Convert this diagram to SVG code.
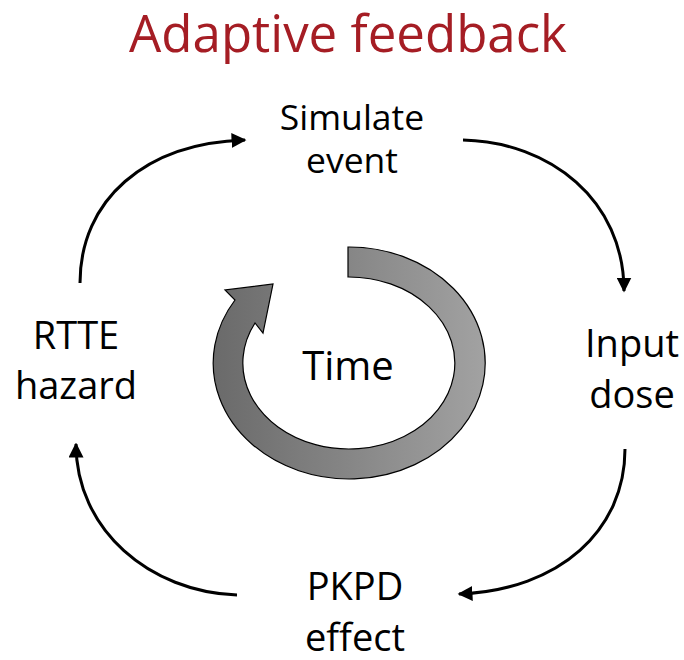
<svg xmlns="http://www.w3.org/2000/svg" width="684" height="660" viewBox="0 0 684 660">
<defs>
<linearGradient id="ringGrad" x1="0" y1="0" x2="1" y2="0">
<stop offset="0" stop-color="#6a6a6a"/>
<stop offset="1" stop-color="#a2a2a2"/>
</linearGradient>
<marker id="arrow" viewBox="0 0 10 10" refX="9" refY="5" markerWidth="5" markerHeight="5" markerUnits="strokeWidth" orient="auto">
<path d="M0,0 L10,5 L0,10 Z" fill="#000"/>
</marker>
</defs>
<style>
.lbl{font-family:"Open Sans","Noto Sans","Liberation Sans",sans-serif;font-size:38px;fill:#000;text-anchor:middle}
.title{font-family:"Open Sans","Noto Sans","Liberation Sans",sans-serif;font-size:51px;fill:#a51d24;text-anchor:middle}
.conn{fill:none;stroke:#000;stroke-width:3;marker-end:url(#arrow)}
</style>
<rect width="684" height="660" fill="#fff"/>
<text class="title" x="348" y="52">Adaptive feedback</text>
<g id="time">
<path d="M348,247 A136,116 0 1 1 235,300 L225,290 L273,284 L263,333 L255,323 A106,86 0 1 0 348,277 Z" fill="url(#ringGrad)" stroke="#000" stroke-width="1.2"/>
<text class="lbl" x="348" y="380" style="font-size:40px">Time</text>
</g>
<g id="simulate">
<text class="lbl" x="352" y="130" style="font-size:35.5px">Simulate</text>
<text class="lbl" x="352" y="173" style="font-size:35.5px">event</text>
</g>
<g id="input">
<text class="lbl" x="632" y="357">Input</text>
<text class="lbl" x="632" y="408">dose</text>
</g>
<g id="pkpd">
<text class="lbl" x="355" y="600">PKPD</text>
<text class="lbl" x="355" y="651">effect</text>
</g>
<g id="rtte">
<text class="lbl" x="76" y="349">RTTE</text>
<text class="lbl" x="76" y="399">hazard</text>
</g>
<g id="connectors">
<path class="conn" d="M80,283 C80,200 145,143 245,140"/>
<path class="conn" d="M463,140 C550,142 624,200 624,291"/>
<path class="conn" d="M625,449 C625,530 560,590 459,594"/>
<path class="conn" d="M237,595 C150,592 76,530 76,444"/>
</g>
</svg>
